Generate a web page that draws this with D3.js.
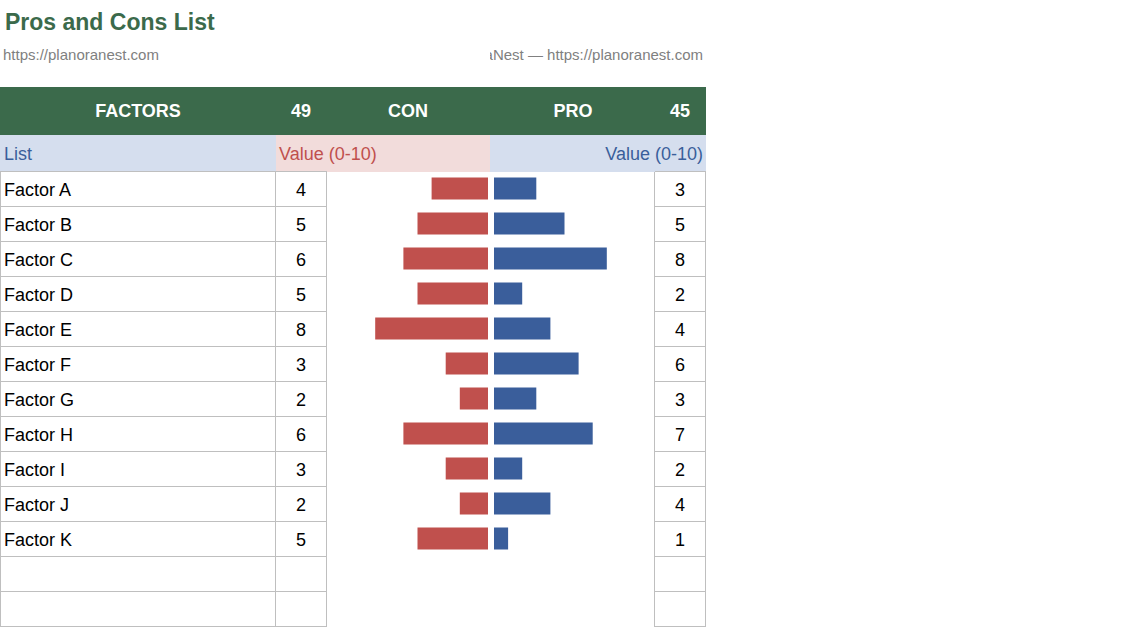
<!DOCTYPE html>
<html>
<head>
<meta charset="utf-8">
<script src="https://cdn.jsdelivr.net/npm/d3@7"></script>
<style>
  body { margin: 0; background: #fff; }
  svg { display: block; font-family: "Liberation Sans", Arial, sans-serif; }
</style>
</head>
<body>
<div id="chart"></div>
<script>
// data
const factors = ["Factor A", "Factor B", "Factor C", "Factor D", "Factor E", "Factor F",
                 "Factor G", "Factor H", "Factor I", "Factor J", "Factor K", "", ""]
const conValues = [4, 5, 6, 5, 8, 3, 2, 6, 3, 2, 5, null, null]
const proValues = [3, 5, 8, 2, 4, 6, 3, 7, 2, 4, 1, null, null]
const valueDomain = [0, 10]

const green = "#3B6A4B"
const red = "#C0504D"
const blue = "#3A5E9B"
const grid = "#BFBFBF"

const svg = d3.select("#chart")
    .append("svg")
    .attr("width", 1136)
    .attr("height", 627)

// title + links
svg.append("text")
    .attr("x", 5)
    .attr("y", 30)
    .attr("fill", green)
    .attr("font-size", 23)
    .attr("font-weight", "bold")
    .text("Pros and Cons List")

svg.append("text")
    .attr("x", 3)
    .attr("y", 60)
    .attr("fill", "#808080")
    .attr("font-size", 15)
    .text("https://planoranest.com")

svg.append("clipPath")
    .attr("id", "rightclip")
    .append("rect")
    .attr("x", 490)
    .attr("y", 40)
    .attr("width", 220)
    .attr("height", 30)

svg.append("text")
    .attr("x", 703)
    .attr("y", 60)
    .attr("text-anchor", "end")
    .attr("fill", "#808080")
    .attr("font-size", 15)
    .attr("clip-path", "url(#rightclip)")
    .text("PlanoraNest \u2014 https://planoranest.com")

// columns
const col = { list: [0, 276], con: [276, 327], bars: [327, 655], pro: [655, 706] }

// header row
svg.append("rect")
    .attr("x", 0).attr("y", 87)
    .attr("width", 706).attr("height", 48)
    .attr("fill", green)

const headers = [
    { t: "FACTORS", x: 138 },
    { t: d3.sum(conValues), x: 301 },
    { t: "CON", x: 408 },
    { t: "PRO", x: 573 },
    { t: d3.sum(proValues), x: 680 }
]
svg.selectAll(".hdr")
    .data(headers)
    .join("text")
    .attr("class", "hdr")
    .attr("x", d => d.x)
    .attr("y", 117)
    .attr("text-anchor", "middle")
    .attr("fill", "#fff")
    .attr("font-size", 18)
    .attr("font-weight", "bold")
    .text(d => d.t)

// sub header
svg.append("rect").attr("x", 0).attr("y", 135).attr("width", 276).attr("height", 37).attr("fill", "#D5DEEE")
svg.append("rect").attr("x", 276).attr("y", 135).attr("width", 214).attr("height", 37).attr("fill", "#F2DCDB")
svg.append("rect").attr("x", 490).attr("y", 135).attr("width", 216).attr("height", 37).attr("fill", "#D5DEEE")

svg.append("text").attr("x", 4).attr("y", 160).attr("fill", blue).attr("font-size", 18).text("List")
svg.append("text").attr("x", 279).attr("y", 160).attr("fill", red).attr("font-size", 18).text("Value (0-10)")
svg.append("text").attr("x", 703).attr("y", 160).attr("text-anchor", "end")
    .attr("fill", blue).attr("font-size", 18).text("Value (0-10)")

// rows
const y = d3.scaleBand()
    .domain(d3.range(factors.length))
    .range([171, 626])

const conX = d3.scaleLinear().domain(valueDomain).range([488, 347])
const proX = d3.scaleLinear().domain(valueDomain).range([494, 635])

// grid lines
const gridG = svg.append("g")
    .attr("stroke", grid)
    .attr("stroke-width", 1)

const rowEdges = d3.range(factors.length + 1).map(i => (i < factors.length ? y(i) : y.range()[1]))
rowEdges.forEach(yy => {
    gridG.append("line").attr("x1", 0).attr("x2", col.con[1]).attr("y1", yy + 0.5).attr("y2", yy + 0.5)
    gridG.append("line").attr("x1", col.pro[0]).attr("x2", col.pro[1]).attr("y1", yy + 0.5).attr("y2", yy + 0.5)
})
;[0, 275, 326, 654, 705].forEach(xx => {
    gridG.append("line").attr("x1", xx + 0.5).attr("x2", xx + 0.5).attr("y1", 172).attr("y2", 627)
})

const rows = svg.selectAll(".row")
    .data(factors.map((f, i) => ({ f, i, con: conValues[i], pro: proValues[i] })))
    .join("g")
    .attr("class", "row")
    .attr("transform", d => `translate(0,${y(d.i)})`)

const bh = 22
const mid = y.bandwidth() / 2

rows.append("text")
    .attr("x", 4)
    .attr("y", mid + 7)
    .attr("font-size", 18)
    .attr("fill", "#000")
    .text(d => d.f)

rows.filter(d => d.con != null).append("text")
    .attr("x", 301)
    .attr("y", mid + 7)
    .attr("text-anchor", "middle")
    .attr("font-size", 18)
    .text(d => d.con)

rows.filter(d => d.pro != null).append("text")
    .attr("x", 680)
    .attr("y", mid + 7)
    .attr("text-anchor", "middle")
    .attr("font-size", 18)
    .text(d => d.pro)

rows.filter(d => d.con != null).append("rect")
    .attr("x", d => conX(d.con))
    .attr("y", mid - bh / 2)
    .attr("width", d => conX(0) - conX(d.con))
    .attr("height", bh)
    .attr("fill", red)

rows.filter(d => d.pro != null).append("rect")
    .attr("x", proX(0))
    .attr("y", mid - bh / 2)
    .attr("width", d => proX(d.pro) - proX(0))
    .attr("height", bh)
    .attr("fill", blue)
</script>
</body>
</html>
